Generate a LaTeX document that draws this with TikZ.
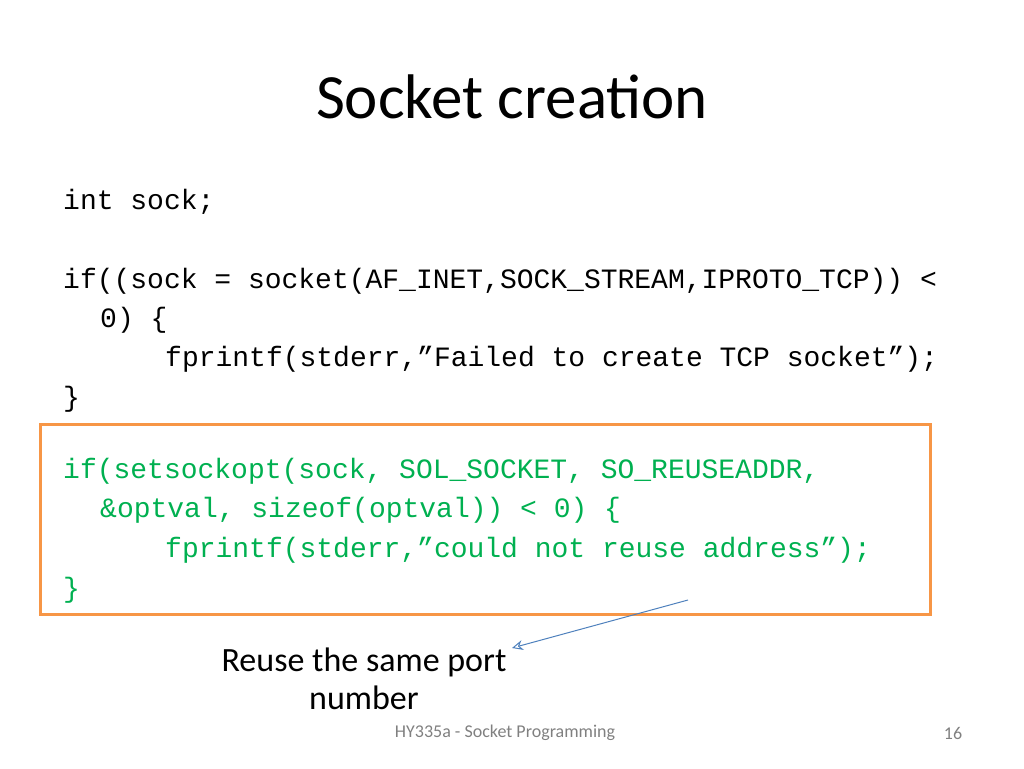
\documentclass[tikz,border=0pt]{standalone}
\usepackage{fontspec}
\usetikzlibrary{arrows.meta}
\setmainfont{Carlito}
\setmonofont{Liberation Mono}
\definecolor{codegreen}{RGB}{0,176,80}
\definecolor{boxorange}{RGB}{247,150,70}
\definecolor{arrblue}{RGB}{79,129,189}
\begin{document}
\begin{tikzpicture}[x=1pt,y=-1pt,
  code/.style={anchor=west,inner sep=0pt,font=\fontsize{28}{30}\ttfamily},
  gcode/.style={code,text=codegreen}]
\useasboundingbox (0,0) rectangle (1024,768);
\node (title) at (512,97) {\fontsize{63}{70}\selectfont Socket creation};
\node[code] (l1) at (63,202) {int sock;};
\node[code] (l2) at (63,281) {if((sock = socket(AF\_INET,SOCK\_STREAM,IPROTO\_TCP)) <};
\node[code] (l3) at (100,320) {0) \{};
\node[code] (l4) at (165,359) {fprintf(stderr,”Failed to create TCP socket”);};
\node[code] (l5) at (63,399) {\}};
\node[gcode] (g1) at (63,471) {if(setsockopt(sock, SOL\_SOCKET, SO\_REUSEADDR,};
\node[gcode] (g2) at (100,510) {\&optval, sizeof(optval)) < 0) \{};
\node[gcode] (g3) at (165,550) {fprintf(stderr,”could not reuse address”);};
\node[gcode] (g4) at (63,590) {\}};
\node[draw=boxorange,line width=3pt,minimum width=890pt,minimum height=190pt,inner sep=0pt] (box) at (485,519) {};
\coordinate (s) at (688,600);
\node[align=center,font=\fontsize{34}{38}\selectfont] (lab) at (364,679) {Reuse the same port\\number};
\coordinate (t) at (512,648);
\draw[arrblue,line width=1pt,-{Stealth[open,length=11pt,width=10pt]}] (s) -- (t);
\node[font=\fontsize{18}{20}\selectfont,text=gray] (foot) at (505,733) {HY335a - Socket Programming};
\node[font=\fontsize{18}{20}\selectfont,text=gray] (pg) at (953,733) {16};
\end{tikzpicture}
\end{document}
